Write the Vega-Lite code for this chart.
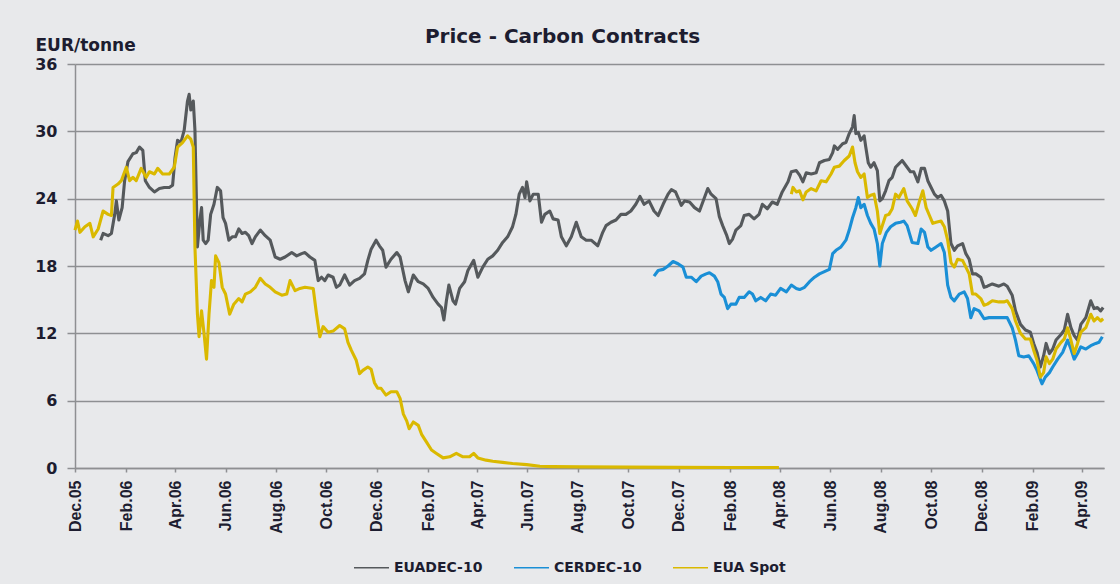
{
"$schema": "https://vega.github.io/schema/vega-lite/v6.json",
"width": 1029, "height": 404,
"autosize": {"type": "none"},
"padding": {"left": 75, "top": 64, "right": 16, "bottom": 116},
"background": "#e8e9eb",
"title": {"text": "Price - Carbon Contracts", "anchor": "middle", "frame": "group", "dx": -27, "dy": 27, "offset": 16, "font": "DejaVu Sans", "fontSize": 20, "fontWeight": "bold", "color": "#1d1d30"},
"data": {"values": [
{"d":"2006-01-01","s":"EUADEC-10","g":"a","p":20.3},
{"d":"2006-01-04","s":"EUADEC-10","g":"a","p":20.9},
{"d":"2006-01-10","s":"EUADEC-10","g":"a","p":20.7},
{"d":"2006-01-14","s":"EUADEC-10","g":"a","p":20.9},
{"d":"2006-01-18","s":"EUADEC-10","g":"a","p":22.6},
{"d":"2006-01-20","s":"EUADEC-10","g":"a","p":23.8},
{"d":"2006-01-23","s":"EUADEC-10","g":"a","p":22.1},
{"d":"2006-01-27","s":"EUADEC-10","g":"a","p":23.2},
{"d":"2006-01-30","s":"EUADEC-10","g":"a","p":25.6},
{"d":"2006-02-03","s":"EUADEC-10","g":"a","p":27.3},
{"d":"2006-02-09","s":"EUADEC-10","g":"a","p":28.0},
{"d":"2006-02-13","s":"EUADEC-10","g":"a","p":28.1},
{"d":"2006-02-17","s":"EUADEC-10","g":"a","p":28.6},
{"d":"2006-02-21","s":"EUADEC-10","g":"a","p":28.3},
{"d":"2006-02-24","s":"EUADEC-10","g":"a","p":25.6},
{"d":"2006-03-01","s":"EUADEC-10","g":"a","p":25.0},
{"d":"2006-03-07","s":"EUADEC-10","g":"a","p":24.6},
{"d":"2006-03-13","s":"EUADEC-10","g":"a","p":24.9},
{"d":"2006-03-19","s":"EUADEC-10","g":"a","p":25.0},
{"d":"2006-03-25","s":"EUADEC-10","g":"a","p":25.0},
{"d":"2006-03-29","s":"EUADEC-10","g":"a","p":25.2},
{"d":"2006-04-01","s":"EUADEC-10","g":"a","p":27.7},
{"d":"2006-04-04","s":"EUADEC-10","g":"a","p":29.2},
{"d":"2006-04-08","s":"EUADEC-10","g":"a","p":29.0},
{"d":"2006-04-12","s":"EUADEC-10","g":"a","p":30.1},
{"d":"2006-04-16","s":"EUADEC-10","g":"a","p":32.7},
{"d":"2006-04-18","s":"EUADEC-10","g":"a","p":33.3},
{"d":"2006-04-20","s":"EUADEC-10","g":"a","p":31.9},
{"d":"2006-04-23","s":"EUADEC-10","g":"a","p":32.7},
{"d":"2006-04-25","s":"EUADEC-10","g":"a","p":30.1},
{"d":"2006-04-28","s":"EUADEC-10","g":"a","p":19.7},
{"d":"2006-05-01","s":"EUADEC-10","g":"a","p":22.1},
{"d":"2006-05-03","s":"EUADEC-10","g":"a","p":23.2},
{"d":"2006-05-05","s":"EUADEC-10","g":"a","p":20.3},
{"d":"2006-05-08","s":"EUADEC-10","g":"a","p":20.0},
{"d":"2006-05-11","s":"EUADEC-10","g":"a","p":20.3},
{"d":"2006-05-14","s":"EUADEC-10","g":"a","p":22.6},
{"d":"2006-05-18","s":"EUADEC-10","g":"a","p":23.5},
{"d":"2006-05-22","s":"EUADEC-10","g":"a","p":25.0},
{"d":"2006-05-26","s":"EUADEC-10","g":"a","p":24.7},
{"d":"2006-05-29","s":"EUADEC-10","g":"a","p":22.3},
{"d":"2006-06-01","s":"EUADEC-10","g":"a","p":21.8},
{"d":"2006-06-05","s":"EUADEC-10","g":"a","p":20.3},
{"d":"2006-06-09","s":"EUADEC-10","g":"a","p":20.6},
{"d":"2006-06-13","s":"EUADEC-10","g":"a","p":20.6},
{"d":"2006-06-17","s":"EUADEC-10","g":"a","p":21.3},
{"d":"2006-06-21","s":"EUADEC-10","g":"a","p":20.9},
{"d":"2006-06-25","s":"EUADEC-10","g":"a","p":21.0},
{"d":"2006-06-29","s":"EUADEC-10","g":"a","p":20.7},
{"d":"2006-07-03","s":"EUADEC-10","g":"a","p":20.0},
{"d":"2006-07-07","s":"EUADEC-10","g":"a","p":20.6},
{"d":"2006-07-13","s":"EUADEC-10","g":"a","p":21.2},
{"d":"2006-07-19","s":"EUADEC-10","g":"a","p":20.7},
{"d":"2006-07-25","s":"EUADEC-10","g":"a","p":20.3},
{"d":"2006-07-31","s":"EUADEC-10","g":"a","p":18.8},
{"d":"2006-08-06","s":"EUADEC-10","g":"a","p":18.6},
{"d":"2006-08-12","s":"EUADEC-10","g":"a","p":18.8},
{"d":"2006-08-20","s":"EUADEC-10","g":"a","p":19.2},
{"d":"2006-08-26","s":"EUADEC-10","g":"a","p":18.9},
{"d":"2006-09-01","s":"EUADEC-10","g":"a","p":19.1},
{"d":"2006-09-05","s":"EUADEC-10","g":"a","p":19.2},
{"d":"2006-09-11","s":"EUADEC-10","g":"a","p":18.8},
{"d":"2006-09-17","s":"EUADEC-10","g":"a","p":18.5},
{"d":"2006-09-21","s":"EUADEC-10","g":"a","p":16.7},
{"d":"2006-09-25","s":"EUADEC-10","g":"a","p":17.0},
{"d":"2006-09-29","s":"EUADEC-10","g":"a","p":16.7},
{"d":"2006-10-03","s":"EUADEC-10","g":"a","p":17.2},
{"d":"2006-10-09","s":"EUADEC-10","g":"a","p":17.0},
{"d":"2006-10-13","s":"EUADEC-10","g":"a","p":16.1},
{"d":"2006-10-17","s":"EUADEC-10","g":"a","p":16.3},
{"d":"2006-10-23","s":"EUADEC-10","g":"a","p":17.2},
{"d":"2006-10-29","s":"EUADEC-10","g":"a","p":16.3},
{"d":"2006-11-04","s":"EUADEC-10","g":"a","p":16.7},
{"d":"2006-11-10","s":"EUADEC-10","g":"a","p":16.9},
{"d":"2006-11-16","s":"EUADEC-10","g":"a","p":17.3},
{"d":"2006-11-20","s":"EUADEC-10","g":"a","p":18.5},
{"d":"2006-11-24","s":"EUADEC-10","g":"a","p":19.5},
{"d":"2006-11-30","s":"EUADEC-10","g":"a","p":20.3},
{"d":"2006-12-04","s":"EUADEC-10","g":"a","p":19.8},
{"d":"2006-12-08","s":"EUADEC-10","g":"a","p":19.4},
{"d":"2006-12-12","s":"EUADEC-10","g":"a","p":17.9},
{"d":"2006-12-18","s":"EUADEC-10","g":"a","p":18.6},
{"d":"2006-12-25","s":"EUADEC-10","g":"a","p":19.2},
{"d":"2006-12-29","s":"EUADEC-10","g":"a","p":18.8},
{"d":"2007-01-04","s":"EUADEC-10","g":"a","p":16.7},
{"d":"2007-01-08","s":"EUADEC-10","g":"a","p":15.7},
{"d":"2007-01-14","s":"EUADEC-10","g":"a","p":17.2},
{"d":"2007-01-20","s":"EUADEC-10","g":"a","p":16.6},
{"d":"2007-01-26","s":"EUADEC-10","g":"a","p":16.4},
{"d":"2007-02-01","s":"EUADEC-10","g":"a","p":16.0},
{"d":"2007-02-07","s":"EUADEC-10","g":"a","p":15.2},
{"d":"2007-02-13","s":"EUADEC-10","g":"a","p":14.6},
{"d":"2007-02-17","s":"EUADEC-10","g":"a","p":14.3},
{"d":"2007-02-20","s":"EUADEC-10","g":"a","p":13.2},
{"d":"2007-02-23","s":"EUADEC-10","g":"a","p":14.9},
{"d":"2007-02-26","s":"EUADEC-10","g":"a","p":16.3},
{"d":"2007-03-03","s":"EUADEC-10","g":"a","p":14.9},
{"d":"2007-03-06","s":"EUADEC-10","g":"a","p":14.6},
{"d":"2007-03-11","s":"EUADEC-10","g":"a","p":16.0},
{"d":"2007-03-17","s":"EUADEC-10","g":"a","p":16.6},
{"d":"2007-03-21","s":"EUADEC-10","g":"a","p":17.6},
{"d":"2007-03-28","s":"EUADEC-10","g":"a","p":18.5},
{"d":"2007-04-02","s":"EUADEC-10","g":"a","p":17.0},
{"d":"2007-04-08","s":"EUADEC-10","g":"a","p":17.9},
{"d":"2007-04-14","s":"EUADEC-10","g":"a","p":18.6},
{"d":"2007-04-20","s":"EUADEC-10","g":"a","p":18.9},
{"d":"2007-04-26","s":"EUADEC-10","g":"a","p":19.4},
{"d":"2007-05-02","s":"EUADEC-10","g":"a","p":20.1},
{"d":"2007-05-08","s":"EUADEC-10","g":"a","p":20.6},
{"d":"2007-05-14","s":"EUADEC-10","g":"a","p":21.5},
{"d":"2007-05-18","s":"EUADEC-10","g":"a","p":22.6},
{"d":"2007-05-22","s":"EUADEC-10","g":"a","p":24.4},
{"d":"2007-05-26","s":"EUADEC-10","g":"a","p":25.0},
{"d":"2007-05-29","s":"EUADEC-10","g":"a","p":24.1},
{"d":"2007-05-31","s":"EUADEC-10","g":"a","p":25.5},
{"d":"2007-06-04","s":"EUADEC-10","g":"a","p":23.8},
{"d":"2007-06-08","s":"EUADEC-10","g":"a","p":24.4},
{"d":"2007-06-14","s":"EUADEC-10","g":"a","p":24.4},
{"d":"2007-06-18","s":"EUADEC-10","g":"a","p":21.9},
{"d":"2007-06-22","s":"EUADEC-10","g":"a","p":22.6},
{"d":"2007-06-28","s":"EUADEC-10","g":"a","p":22.9},
{"d":"2007-07-02","s":"EUADEC-10","g":"a","p":22.2},
{"d":"2007-07-08","s":"EUADEC-10","g":"a","p":22.1},
{"d":"2007-07-12","s":"EUADEC-10","g":"a","p":20.6},
{"d":"2007-07-18","s":"EUADEC-10","g":"a","p":19.8},
{"d":"2007-07-24","s":"EUADEC-10","g":"a","p":20.6},
{"d":"2007-07-30","s":"EUADEC-10","g":"a","p":21.9},
{"d":"2007-08-05","s":"EUADEC-10","g":"a","p":20.6},
{"d":"2007-08-11","s":"EUADEC-10","g":"a","p":20.3},
{"d":"2007-08-17","s":"EUADEC-10","g":"a","p":20.3},
{"d":"2007-08-25","s":"EUADEC-10","g":"a","p":19.8},
{"d":"2007-08-31","s":"EUADEC-10","g":"a","p":21.0},
{"d":"2007-09-04","s":"EUADEC-10","g":"a","p":21.6},
{"d":"2007-09-10","s":"EUADEC-10","g":"a","p":21.9},
{"d":"2007-09-16","s":"EUADEC-10","g":"a","p":22.1},
{"d":"2007-09-22","s":"EUADEC-10","g":"a","p":22.6},
{"d":"2007-09-28","s":"EUADEC-10","g":"a","p":22.6},
{"d":"2007-10-04","s":"EUADEC-10","g":"a","p":22.9},
{"d":"2007-10-10","s":"EUADEC-10","g":"a","p":23.5},
{"d":"2007-10-15","s":"EUADEC-10","g":"a","p":24.2},
{"d":"2007-10-20","s":"EUADEC-10","g":"a","p":23.5},
{"d":"2007-10-26","s":"EUADEC-10","g":"a","p":23.8},
{"d":"2007-11-01","s":"EUADEC-10","g":"a","p":22.9},
{"d":"2007-11-06","s":"EUADEC-10","g":"a","p":22.5},
{"d":"2007-11-12","s":"EUADEC-10","g":"a","p":23.5},
{"d":"2007-11-18","s":"EUADEC-10","g":"a","p":24.4},
{"d":"2007-11-22","s":"EUADEC-10","g":"a","p":24.8},
{"d":"2007-11-27","s":"EUADEC-10","g":"a","p":24.6},
{"d":"2007-11-30","s":"EUADEC-10","g":"a","p":24.1},
{"d":"2007-12-04","s":"EUADEC-10","g":"a","p":23.4},
{"d":"2007-12-08","s":"EUADEC-10","g":"a","p":23.8},
{"d":"2007-12-14","s":"EUADEC-10","g":"a","p":23.7},
{"d":"2007-12-20","s":"EUADEC-10","g":"a","p":23.2},
{"d":"2007-12-26","s":"EUADEC-10","g":"a","p":22.9},
{"d":"2008-01-01","s":"EUADEC-10","g":"a","p":24.1},
{"d":"2008-01-05","s":"EUADEC-10","g":"a","p":24.9},
{"d":"2008-01-09","s":"EUADEC-10","g":"a","p":24.4},
{"d":"2008-01-15","s":"EUADEC-10","g":"a","p":24.0},
{"d":"2008-01-19","s":"EUADEC-10","g":"a","p":22.4},
{"d":"2008-01-23","s":"EUADEC-10","g":"a","p":21.6},
{"d":"2008-01-28","s":"EUADEC-10","g":"a","p":20.7},
{"d":"2008-01-31","s":"EUADEC-10","g":"a","p":20.0},
{"d":"2008-02-04","s":"EUADEC-10","g":"a","p":20.4},
{"d":"2008-02-08","s":"EUADEC-10","g":"a","p":21.2},
{"d":"2008-02-14","s":"EUADEC-10","g":"a","p":21.6},
{"d":"2008-02-18","s":"EUADEC-10","g":"a","p":22.5},
{"d":"2008-02-24","s":"EUADEC-10","g":"a","p":22.6},
{"d":"2008-03-01","s":"EUADEC-10","g":"a","p":22.2},
{"d":"2008-03-07","s":"EUADEC-10","g":"a","p":22.6},
{"d":"2008-03-11","s":"EUADEC-10","g":"a","p":23.5},
{"d":"2008-03-17","s":"EUADEC-10","g":"a","p":23.1},
{"d":"2008-03-23","s":"EUADEC-10","g":"a","p":23.7},
{"d":"2008-03-29","s":"EUADEC-10","g":"a","p":23.5},
{"d":"2008-04-04","s":"EUADEC-10","g":"a","p":24.6},
{"d":"2008-04-11","s":"EUADEC-10","g":"a","p":25.5},
{"d":"2008-04-15","s":"EUADEC-10","g":"a","p":26.4},
{"d":"2008-04-21","s":"EUADEC-10","g":"a","p":26.5},
{"d":"2008-04-25","s":"EUADEC-10","g":"a","p":26.1},
{"d":"2008-04-29","s":"EUADEC-10","g":"a","p":25.5},
{"d":"2008-05-03","s":"EUADEC-10","g":"a","p":26.3},
{"d":"2008-05-09","s":"EUADEC-10","g":"a","p":26.2},
{"d":"2008-05-15","s":"EUADEC-10","g":"a","p":26.3},
{"d":"2008-05-19","s":"EUADEC-10","g":"a","p":27.2},
{"d":"2008-05-25","s":"EUADEC-10","g":"a","p":27.4},
{"d":"2008-05-31","s":"EUADEC-10","g":"a","p":27.5},
{"d":"2008-06-04","s":"EUADEC-10","g":"a","p":28.1},
{"d":"2008-06-06","s":"EUADEC-10","g":"a","p":28.7},
{"d":"2008-06-10","s":"EUADEC-10","g":"a","p":28.4},
{"d":"2008-06-16","s":"EUADEC-10","g":"a","p":28.9},
{"d":"2008-06-20","s":"EUADEC-10","g":"a","p":29.0},
{"d":"2008-06-24","s":"EUADEC-10","g":"a","p":29.8},
{"d":"2008-06-28","s":"EUADEC-10","g":"a","p":30.4},
{"d":"2008-06-30","s":"EUADEC-10","g":"a","p":31.4},
{"d":"2008-07-02","s":"EUADEC-10","g":"a","p":29.8},
{"d":"2008-07-05","s":"EUADEC-10","g":"a","p":29.9},
{"d":"2008-07-08","s":"EUADEC-10","g":"a","p":29.2},
{"d":"2008-07-12","s":"EUADEC-10","g":"a","p":29.6},
{"d":"2008-07-14","s":"EUADEC-10","g":"a","p":28.6},
{"d":"2008-07-17","s":"EUADEC-10","g":"a","p":27.2},
{"d":"2008-07-20","s":"EUADEC-10","g":"a","p":26.8},
{"d":"2008-07-24","s":"EUADEC-10","g":"a","p":27.2},
{"d":"2008-07-28","s":"EUADEC-10","g":"a","p":26.5},
{"d":"2008-07-31","s":"EUADEC-10","g":"a","p":23.8},
{"d":"2008-08-03","s":"EUADEC-10","g":"a","p":24.0},
{"d":"2008-08-07","s":"EUADEC-10","g":"a","p":24.7},
{"d":"2008-08-11","s":"EUADEC-10","g":"a","p":25.6},
{"d":"2008-08-15","s":"EUADEC-10","g":"a","p":25.9},
{"d":"2008-08-19","s":"EUADEC-10","g":"a","p":26.8},
{"d":"2008-08-23","s":"EUADEC-10","g":"a","p":27.1},
{"d":"2008-08-27","s":"EUADEC-10","g":"a","p":27.4},
{"d":"2008-09-02","s":"EUADEC-10","g":"a","p":26.8},
{"d":"2008-09-06","s":"EUADEC-10","g":"a","p":26.4},
{"d":"2008-09-10","s":"EUADEC-10","g":"a","p":26.4},
{"d":"2008-09-15","s":"EUADEC-10","g":"a","p":25.5},
{"d":"2008-09-19","s":"EUADEC-10","g":"a","p":26.7},
{"d":"2008-09-23","s":"EUADEC-10","g":"a","p":26.7},
{"d":"2008-09-27","s":"EUADEC-10","g":"a","p":25.6},
{"d":"2008-10-01","s":"EUADEC-10","g":"a","p":25.0},
{"d":"2008-10-05","s":"EUADEC-10","g":"a","p":24.4},
{"d":"2008-10-09","s":"EUADEC-10","g":"a","p":24.1},
{"d":"2008-10-13","s":"EUADEC-10","g":"a","p":24.3},
{"d":"2008-10-17","s":"EUADEC-10","g":"a","p":23.8},
{"d":"2008-10-21","s":"EUADEC-10","g":"a","p":22.9},
{"d":"2008-10-25","s":"EUADEC-10","g":"a","p":20.0},
{"d":"2008-10-29","s":"EUADEC-10","g":"a","p":19.4},
{"d":"2008-11-02","s":"EUADEC-10","g":"a","p":19.8},
{"d":"2008-11-08","s":"EUADEC-10","g":"a","p":20.0},
{"d":"2008-11-12","s":"EUADEC-10","g":"a","p":19.1},
{"d":"2008-11-16","s":"EUADEC-10","g":"a","p":18.6},
{"d":"2008-11-20","s":"EUADEC-10","g":"a","p":17.3},
{"d":"2008-11-24","s":"EUADEC-10","g":"a","p":17.3},
{"d":"2008-11-30","s":"EUADEC-10","g":"a","p":17.0},
{"d":"2008-12-04","s":"EUADEC-10","g":"a","p":16.1},
{"d":"2008-12-08","s":"EUADEC-10","g":"a","p":16.2},
{"d":"2008-12-14","s":"EUADEC-10","g":"a","p":16.4},
{"d":"2008-12-22","s":"EUADEC-10","g":"a","p":16.2},
{"d":"2008-12-28","s":"EUADEC-10","g":"a","p":16.4},
{"d":"2009-01-01","s":"EUADEC-10","g":"a","p":16.2},
{"d":"2009-01-07","s":"EUADEC-10","g":"a","p":15.4},
{"d":"2009-01-11","s":"EUADEC-10","g":"a","p":14.0},
{"d":"2009-01-17","s":"EUADEC-10","g":"a","p":12.8},
{"d":"2009-01-23","s":"EUADEC-10","g":"a","p":12.3},
{"d":"2009-01-29","s":"EUADEC-10","g":"a","p":12.1},
{"d":"2009-02-02","s":"EUADEC-10","g":"a","p":11.1},
{"d":"2009-02-06","s":"EUADEC-10","g":"a","p":10.3},
{"d":"2009-02-10","s":"EUADEC-10","g":"a","p":9.0},
{"d":"2009-02-14","s":"EUADEC-10","g":"a","p":10.0},
{"d":"2009-02-17","s":"EUADEC-10","g":"a","p":11.1},
{"d":"2009-02-21","s":"EUADEC-10","g":"a","p":10.2},
{"d":"2009-02-25","s":"EUADEC-10","g":"a","p":10.6},
{"d":"2009-03-01","s":"EUADEC-10","g":"a","p":11.4},
{"d":"2009-03-07","s":"EUADEC-10","g":"a","p":11.9},
{"d":"2009-03-11","s":"EUADEC-10","g":"a","p":12.3},
{"d":"2009-03-15","s":"EUADEC-10","g":"a","p":13.7},
{"d":"2009-03-19","s":"EUADEC-10","g":"a","p":12.5},
{"d":"2009-03-23","s":"EUADEC-10","g":"a","p":11.8},
{"d":"2009-03-27","s":"EUADEC-10","g":"a","p":11.4},
{"d":"2009-03-31","s":"EUADEC-10","g":"a","p":12.8},
{"d":"2009-04-06","s":"EUADEC-10","g":"a","p":13.4},
{"d":"2009-04-12","s":"EUADEC-10","g":"a","p":14.9},
{"d":"2009-04-16","s":"EUADEC-10","g":"a","p":14.2},
{"d":"2009-04-20","s":"EUADEC-10","g":"a","p":14.3},
{"d":"2009-04-24","s":"EUADEC-10","g":"a","p":14.0},
{"d":"2009-04-27","s":"EUADEC-10","g":"a","p":14.3},
{"d":"2007-11-01","s":"CERDEC-10","g":"b","p":17.1},
{"d":"2007-11-06","s":"CERDEC-10","g":"b","p":17.6},
{"d":"2007-11-12","s":"CERDEC-10","g":"b","p":17.7},
{"d":"2007-11-18","s":"CERDEC-10","g":"b","p":18.0},
{"d":"2007-11-24","s":"CERDEC-10","g":"b","p":18.4},
{"d":"2007-11-30","s":"CERDEC-10","g":"b","p":18.2},
{"d":"2007-12-06","s":"CERDEC-10","g":"b","p":17.9},
{"d":"2007-12-10","s":"CERDEC-10","g":"b","p":17.0},
{"d":"2007-12-16","s":"CERDEC-10","g":"b","p":17.0},
{"d":"2007-12-22","s":"CERDEC-10","g":"b","p":16.6},
{"d":"2007-12-28","s":"CERDEC-10","g":"b","p":17.1},
{"d":"2008-01-03","s":"CERDEC-10","g":"b","p":17.3},
{"d":"2008-01-07","s":"CERDEC-10","g":"b","p":17.4},
{"d":"2008-01-13","s":"CERDEC-10","g":"b","p":17.1},
{"d":"2008-01-17","s":"CERDEC-10","g":"b","p":16.6},
{"d":"2008-01-21","s":"CERDEC-10","g":"b","p":15.5},
{"d":"2008-01-25","s":"CERDEC-10","g":"b","p":15.2},
{"d":"2008-01-29","s":"CERDEC-10","g":"b","p":14.2},
{"d":"2008-02-02","s":"CERDEC-10","g":"b","p":14.6},
{"d":"2008-02-08","s":"CERDEC-10","g":"b","p":14.6},
{"d":"2008-02-12","s":"CERDEC-10","g":"b","p":15.2},
{"d":"2008-02-18","s":"CERDEC-10","g":"b","p":15.2},
{"d":"2008-02-24","s":"CERDEC-10","g":"b","p":15.7},
{"d":"2008-02-28","s":"CERDEC-10","g":"b","p":15.5},
{"d":"2008-03-03","s":"CERDEC-10","g":"b","p":14.9},
{"d":"2008-03-09","s":"CERDEC-10","g":"b","p":15.2},
{"d":"2008-03-15","s":"CERDEC-10","g":"b","p":14.9},
{"d":"2008-03-21","s":"CERDEC-10","g":"b","p":15.5},
{"d":"2008-03-27","s":"CERDEC-10","g":"b","p":15.4},
{"d":"2008-04-02","s":"CERDEC-10","g":"b","p":16.0},
{"d":"2008-04-09","s":"CERDEC-10","g":"b","p":15.7},
{"d":"2008-04-15","s":"CERDEC-10","g":"b","p":16.3},
{"d":"2008-04-21","s":"CERDEC-10","g":"b","p":16.0},
{"d":"2008-04-25","s":"CERDEC-10","g":"b","p":15.9},
{"d":"2008-05-01","s":"CERDEC-10","g":"b","p":16.1},
{"d":"2008-05-07","s":"CERDEC-10","g":"b","p":16.6},
{"d":"2008-05-13","s":"CERDEC-10","g":"b","p":17.0},
{"d":"2008-05-19","s":"CERDEC-10","g":"b","p":17.3},
{"d":"2008-05-25","s":"CERDEC-10","g":"b","p":17.5},
{"d":"2008-05-31","s":"CERDEC-10","g":"b","p":17.7},
{"d":"2008-06-04","s":"CERDEC-10","g":"b","p":19.1},
{"d":"2008-06-08","s":"CERDEC-10","g":"b","p":19.4},
{"d":"2008-06-14","s":"CERDEC-10","g":"b","p":19.7},
{"d":"2008-06-20","s":"CERDEC-10","g":"b","p":20.3},
{"d":"2008-06-24","s":"CERDEC-10","g":"b","p":21.2},
{"d":"2008-06-28","s":"CERDEC-10","g":"b","p":22.3},
{"d":"2008-07-02","s":"CERDEC-10","g":"b","p":23.2},
{"d":"2008-07-05","s":"CERDEC-10","g":"b","p":24.1},
{"d":"2008-07-08","s":"CERDEC-10","g":"b","p":23.2},
{"d":"2008-07-12","s":"CERDEC-10","g":"b","p":23.5},
{"d":"2008-07-16","s":"CERDEC-10","g":"b","p":22.5},
{"d":"2008-07-20","s":"CERDEC-10","g":"b","p":21.8},
{"d":"2008-07-24","s":"CERDEC-10","g":"b","p":21.3},
{"d":"2008-07-28","s":"CERDEC-10","g":"b","p":20.0},
{"d":"2008-07-31","s":"CERDEC-10","g":"b","p":18.0},
{"d":"2008-08-03","s":"CERDEC-10","g":"b","p":20.0},
{"d":"2008-08-08","s":"CERDEC-10","g":"b","p":21.0},
{"d":"2008-08-13","s":"CERDEC-10","g":"b","p":21.5},
{"d":"2008-08-19","s":"CERDEC-10","g":"b","p":21.8},
{"d":"2008-08-25","s":"CERDEC-10","g":"b","p":21.9},
{"d":"2008-08-29","s":"CERDEC-10","g":"b","p":22.0},
{"d":"2008-09-02","s":"CERDEC-10","g":"b","p":21.6},
{"d":"2008-09-08","s":"CERDEC-10","g":"b","p":20.1},
{"d":"2008-09-15","s":"CERDEC-10","g":"b","p":20.0},
{"d":"2008-09-19","s":"CERDEC-10","g":"b","p":21.3},
{"d":"2008-09-23","s":"CERDEC-10","g":"b","p":21.0},
{"d":"2008-09-27","s":"CERDEC-10","g":"b","p":19.7},
{"d":"2008-10-01","s":"CERDEC-10","g":"b","p":19.4},
{"d":"2008-10-07","s":"CERDEC-10","g":"b","p":19.7},
{"d":"2008-10-13","s":"CERDEC-10","g":"b","p":20.0},
{"d":"2008-10-17","s":"CERDEC-10","g":"b","p":19.2},
{"d":"2008-10-21","s":"CERDEC-10","g":"b","p":16.3},
{"d":"2008-10-25","s":"CERDEC-10","g":"b","p":15.2},
{"d":"2008-10-29","s":"CERDEC-10","g":"b","p":14.9},
{"d":"2008-11-04","s":"CERDEC-10","g":"b","p":15.5},
{"d":"2008-11-10","s":"CERDEC-10","g":"b","p":15.7},
{"d":"2008-11-14","s":"CERDEC-10","g":"b","p":15.1},
{"d":"2008-11-18","s":"CERDEC-10","g":"b","p":13.4},
{"d":"2008-11-22","s":"CERDEC-10","g":"b","p":14.2},
{"d":"2008-11-28","s":"CERDEC-10","g":"b","p":14.0},
{"d":"2008-12-04","s":"CERDEC-10","g":"b","p":13.3},
{"d":"2008-12-10","s":"CERDEC-10","g":"b","p":13.4},
{"d":"2008-12-18","s":"CERDEC-10","g":"b","p":13.4},
{"d":"2008-12-26","s":"CERDEC-10","g":"b","p":13.4},
{"d":"2009-01-01","s":"CERDEC-10","g":"b","p":13.4},
{"d":"2009-01-07","s":"CERDEC-10","g":"b","p":12.5},
{"d":"2009-01-11","s":"CERDEC-10","g":"b","p":11.4},
{"d":"2009-01-15","s":"CERDEC-10","g":"b","p":10.0},
{"d":"2009-01-21","s":"CERDEC-10","g":"b","p":9.9},
{"d":"2009-01-27","s":"CERDEC-10","g":"b","p":10.0},
{"d":"2009-02-02","s":"CERDEC-10","g":"b","p":9.3},
{"d":"2009-02-06","s":"CERDEC-10","g":"b","p":8.7},
{"d":"2009-02-12","s":"CERDEC-10","g":"b","p":7.5},
{"d":"2009-02-16","s":"CERDEC-10","g":"b","p":8.1},
{"d":"2009-02-21","s":"CERDEC-10","g":"b","p":8.5},
{"d":"2009-02-25","s":"CERDEC-10","g":"b","p":9.0},
{"d":"2009-03-03","s":"CERDEC-10","g":"b","p":9.7},
{"d":"2009-03-09","s":"CERDEC-10","g":"b","p":10.3},
{"d":"2009-03-15","s":"CERDEC-10","g":"b","p":11.4},
{"d":"2009-03-19","s":"CERDEC-10","g":"b","p":10.6},
{"d":"2009-03-23","s":"CERDEC-10","g":"b","p":9.7},
{"d":"2009-03-27","s":"CERDEC-10","g":"b","p":10.2},
{"d":"2009-03-31","s":"CERDEC-10","g":"b","p":10.8},
{"d":"2009-04-06","s":"CERDEC-10","g":"b","p":10.6},
{"d":"2009-04-12","s":"CERDEC-10","g":"b","p":10.9},
{"d":"2009-04-18","s":"CERDEC-10","g":"b","p":11.1},
{"d":"2009-04-22","s":"CERDEC-10","g":"b","p":11.2},
{"d":"2009-04-26","s":"CERDEC-10","g":"b","p":11.7},
{"d":"2005-12-01","s":"EUA Spot","g":"c1","p":21.2},
{"d":"2005-12-04","s":"EUA Spot","g":"c1","p":22.0},
{"d":"2005-12-07","s":"EUA Spot","g":"c1","p":21.0},
{"d":"2005-12-13","s":"EUA Spot","g":"c1","p":21.5},
{"d":"2005-12-19","s":"EUA Spot","g":"c1","p":21.8},
{"d":"2005-12-23","s":"EUA Spot","g":"c1","p":20.6},
{"d":"2005-12-29","s":"EUA Spot","g":"c1","p":21.3},
{"d":"2006-01-04","s":"EUA Spot","g":"c1","p":22.9},
{"d":"2006-01-10","s":"EUA Spot","g":"c1","p":22.6},
{"d":"2006-01-14","s":"EUA Spot","g":"c1","p":22.5},
{"d":"2006-01-16","s":"EUA Spot","g":"c1","p":25.0},
{"d":"2006-01-22","s":"EUA Spot","g":"c1","p":25.3},
{"d":"2006-01-26","s":"EUA Spot","g":"c1","p":25.6},
{"d":"2006-02-01","s":"EUA Spot","g":"c1","p":26.8},
{"d":"2006-02-05","s":"EUA Spot","g":"c1","p":25.6},
{"d":"2006-02-09","s":"EUA Spot","g":"c1","p":25.9},
{"d":"2006-02-13","s":"EUA Spot","g":"c1","p":25.6},
{"d":"2006-02-19","s":"EUA Spot","g":"c1","p":26.7},
{"d":"2006-02-25","s":"EUA Spot","g":"c1","p":25.9},
{"d":"2006-03-01","s":"EUA Spot","g":"c1","p":26.4},
{"d":"2006-03-07","s":"EUA Spot","g":"c1","p":26.2},
{"d":"2006-03-11","s":"EUA Spot","g":"c1","p":26.7},
{"d":"2006-03-17","s":"EUA Spot","g":"c1","p":26.2},
{"d":"2006-03-25","s":"EUA Spot","g":"c1","p":26.2},
{"d":"2006-03-31","s":"EUA Spot","g":"c1","p":26.8},
{"d":"2006-04-04","s":"EUA Spot","g":"c1","p":28.6},
{"d":"2006-04-10","s":"EUA Spot","g":"c1","p":29.0},
{"d":"2006-04-16","s":"EUA Spot","g":"c1","p":29.6},
{"d":"2006-04-20","s":"EUA Spot","g":"c1","p":29.3},
{"d":"2006-04-23","s":"EUA Spot","g":"c1","p":28.6},
{"d":"2006-04-25","s":"EUA Spot","g":"c1","p":19.7},
{"d":"2006-04-28","s":"EUA Spot","g":"c1","p":13.7},
{"d":"2006-04-30","s":"EUA Spot","g":"c1","p":11.7},
{"d":"2006-05-03","s":"EUA Spot","g":"c1","p":14.0},
{"d":"2006-05-06","s":"EUA Spot","g":"c1","p":12.0},
{"d":"2006-05-09","s":"EUA Spot","g":"c1","p":9.7},
{"d":"2006-05-12","s":"EUA Spot","g":"c1","p":13.7},
{"d":"2006-05-15","s":"EUA Spot","g":"c1","p":16.7},
{"d":"2006-05-18","s":"EUA Spot","g":"c1","p":16.1},
{"d":"2006-05-20","s":"EUA Spot","g":"c1","p":18.9},
{"d":"2006-05-24","s":"EUA Spot","g":"c1","p":18.3},
{"d":"2006-05-28","s":"EUA Spot","g":"c1","p":16.1},
{"d":"2006-06-01","s":"EUA Spot","g":"c1","p":15.5},
{"d":"2006-06-06","s":"EUA Spot","g":"c1","p":13.7},
{"d":"2006-06-11","s":"EUA Spot","g":"c1","p":14.6},
{"d":"2006-06-17","s":"EUA Spot","g":"c1","p":15.1},
{"d":"2006-06-21","s":"EUA Spot","g":"c1","p":14.8},
{"d":"2006-06-25","s":"EUA Spot","g":"c1","p":15.5},
{"d":"2006-07-01","s":"EUA Spot","g":"c1","p":15.7},
{"d":"2006-07-07","s":"EUA Spot","g":"c1","p":16.1},
{"d":"2006-07-13","s":"EUA Spot","g":"c1","p":16.9},
{"d":"2006-07-19","s":"EUA Spot","g":"c1","p":16.4},
{"d":"2006-07-25","s":"EUA Spot","g":"c1","p":16.1},
{"d":"2006-07-31","s":"EUA Spot","g":"c1","p":15.7},
{"d":"2006-08-08","s":"EUA Spot","g":"c1","p":15.4},
{"d":"2006-08-14","s":"EUA Spot","g":"c1","p":15.5},
{"d":"2006-08-18","s":"EUA Spot","g":"c1","p":16.7},
{"d":"2006-08-24","s":"EUA Spot","g":"c1","p":15.8},
{"d":"2006-08-30","s":"EUA Spot","g":"c1","p":16.0},
{"d":"2006-09-05","s":"EUA Spot","g":"c1","p":16.1},
{"d":"2006-09-15","s":"EUA Spot","g":"c1","p":16.0},
{"d":"2006-09-19","s":"EUA Spot","g":"c1","p":13.7},
{"d":"2006-09-23","s":"EUA Spot","g":"c1","p":11.7},
{"d":"2006-09-27","s":"EUA Spot","g":"c1","p":12.6},
{"d":"2006-10-03","s":"EUA Spot","g":"c1","p":12.1},
{"d":"2006-10-09","s":"EUA Spot","g":"c1","p":12.2},
{"d":"2006-10-17","s":"EUA Spot","g":"c1","p":12.7},
{"d":"2006-10-23","s":"EUA Spot","g":"c1","p":12.4},
{"d":"2006-10-27","s":"EUA Spot","g":"c1","p":11.2},
{"d":"2006-10-31","s":"EUA Spot","g":"c1","p":10.5},
{"d":"2006-11-06","s":"EUA Spot","g":"c1","p":9.6},
{"d":"2006-11-10","s":"EUA Spot","g":"c1","p":8.4},
{"d":"2006-11-14","s":"EUA Spot","g":"c1","p":8.7},
{"d":"2006-11-20","s":"EUA Spot","g":"c1","p":9.0},
{"d":"2006-11-24","s":"EUA Spot","g":"c1","p":8.8},
{"d":"2006-11-28","s":"EUA Spot","g":"c1","p":7.6},
{"d":"2006-12-02","s":"EUA Spot","g":"c1","p":7.1},
{"d":"2006-12-06","s":"EUA Spot","g":"c1","p":7.1},
{"d":"2006-12-12","s":"EUA Spot","g":"c1","p":6.5},
{"d":"2006-12-18","s":"EUA Spot","g":"c1","p":6.8},
{"d":"2006-12-25","s":"EUA Spot","g":"c1","p":6.8},
{"d":"2006-12-29","s":"EUA Spot","g":"c1","p":6.2},
{"d":"2007-01-02","s":"EUA Spot","g":"c1","p":4.8},
{"d":"2007-01-06","s":"EUA Spot","g":"c1","p":4.2},
{"d":"2007-01-09","s":"EUA Spot","g":"c1","p":3.5},
{"d":"2007-01-14","s":"EUA Spot","g":"c1","p":4.1},
{"d":"2007-01-20","s":"EUA Spot","g":"c1","p":3.8},
{"d":"2007-01-24","s":"EUA Spot","g":"c1","p":3.0},
{"d":"2007-01-30","s":"EUA Spot","g":"c1","p":2.3},
{"d":"2007-02-05","s":"EUA Spot","g":"c1","p":1.6},
{"d":"2007-02-11","s":"EUA Spot","g":"c1","p":1.3},
{"d":"2007-02-19","s":"EUA Spot","g":"c1","p":0.9},
{"d":"2007-02-27","s":"EUA Spot","g":"c1","p":1.0},
{"d":"2007-03-07","s":"EUA Spot","g":"c1","p":1.3},
{"d":"2007-03-15","s":"EUA Spot","g":"c1","p":1.0},
{"d":"2007-03-23","s":"EUA Spot","g":"c1","p":1.0},
{"d":"2007-03-28","s":"EUA Spot","g":"c1","p":1.3},
{"d":"2007-04-02","s":"EUA Spot","g":"c1","p":0.9},
{"d":"2007-04-12","s":"EUA Spot","g":"c1","p":0.7},
{"d":"2007-04-20","s":"EUA Spot","g":"c1","p":0.6},
{"d":"2007-05-02","s":"EUA Spot","g":"c1","p":0.5},
{"d":"2007-05-14","s":"EUA Spot","g":"c1","p":0.4},
{"d":"2007-05-31","s":"EUA Spot","g":"c1","p":0.3},
{"d":"2007-06-16","s":"EUA Spot","g":"c1","p":0.15},
{"d":"2007-07-02","s":"EUA Spot","g":"c1","p":0.12},
{"d":"2007-08-03","s":"EUA Spot","g":"c1","p":0.1},
{"d":"2007-10-01","s":"EUA Spot","g":"c1","p":0.08},
{"d":"2007-12-01","s":"EUA Spot","g":"c1","p":0.06},
{"d":"2008-02-01","s":"EUA Spot","g":"c1","p":0.05},
{"d":"2008-03-31","s":"EUA Spot","g":"c1","p":0.05},
{"d":"2008-04-15","s":"EUA Spot","g":"c2","p":24.4},
{"d":"2008-04-17","s":"EUA Spot","g":"c2","p":25.0},
{"d":"2008-04-21","s":"EUA Spot","g":"c2","p":24.6},
{"d":"2008-04-25","s":"EUA Spot","g":"c2","p":24.7},
{"d":"2008-04-29","s":"EUA Spot","g":"c2","p":23.9},
{"d":"2008-05-03","s":"EUA Spot","g":"c2","p":24.6},
{"d":"2008-05-09","s":"EUA Spot","g":"c2","p":24.9},
{"d":"2008-05-15","s":"EUA Spot","g":"c2","p":24.7},
{"d":"2008-05-21","s":"EUA Spot","g":"c2","p":25.6},
{"d":"2008-05-27","s":"EUA Spot","g":"c2","p":25.5},
{"d":"2008-06-02","s":"EUA Spot","g":"c2","p":26.2},
{"d":"2008-06-06","s":"EUA Spot","g":"c2","p":26.8},
{"d":"2008-06-12","s":"EUA Spot","g":"c2","p":26.9},
{"d":"2008-06-18","s":"EUA Spot","g":"c2","p":27.4},
{"d":"2008-06-24","s":"EUA Spot","g":"c2","p":27.8},
{"d":"2008-06-28","s":"EUA Spot","g":"c2","p":28.6},
{"d":"2008-07-01","s":"EUA Spot","g":"c2","p":27.2},
{"d":"2008-07-04","s":"EUA Spot","g":"c2","p":26.4},
{"d":"2008-07-08","s":"EUA Spot","g":"c2","p":25.9},
{"d":"2008-07-12","s":"EUA Spot","g":"c2","p":26.2},
{"d":"2008-07-16","s":"EUA Spot","g":"c2","p":24.1},
{"d":"2008-07-20","s":"EUA Spot","g":"c2","p":24.3},
{"d":"2008-07-24","s":"EUA Spot","g":"c2","p":24.4},
{"d":"2008-07-28","s":"EUA Spot","g":"c2","p":22.9},
{"d":"2008-07-31","s":"EUA Spot","g":"c2","p":20.9},
{"d":"2008-08-03","s":"EUA Spot","g":"c2","p":21.6},
{"d":"2008-08-07","s":"EUA Spot","g":"c2","p":22.5},
{"d":"2008-08-11","s":"EUA Spot","g":"c2","p":22.6},
{"d":"2008-08-15","s":"EUA Spot","g":"c2","p":23.1},
{"d":"2008-08-19","s":"EUA Spot","g":"c2","p":24.4},
{"d":"2008-08-23","s":"EUA Spot","g":"c2","p":24.1},
{"d":"2008-08-29","s":"EUA Spot","g":"c2","p":24.9},
{"d":"2008-09-02","s":"EUA Spot","g":"c2","p":23.8},
{"d":"2008-09-08","s":"EUA Spot","g":"c2","p":23.1},
{"d":"2008-09-12","s":"EUA Spot","g":"c2","p":22.5},
{"d":"2008-09-17","s":"EUA Spot","g":"c2","p":23.8},
{"d":"2008-09-21","s":"EUA Spot","g":"c2","p":24.7},
{"d":"2008-09-25","s":"EUA Spot","g":"c2","p":23.2},
{"d":"2008-09-29","s":"EUA Spot","g":"c2","p":22.5},
{"d":"2008-10-03","s":"EUA Spot","g":"c2","p":21.8},
{"d":"2008-10-07","s":"EUA Spot","g":"c2","p":21.9},
{"d":"2008-10-13","s":"EUA Spot","g":"c2","p":22.0},
{"d":"2008-10-17","s":"EUA Spot","g":"c2","p":21.5},
{"d":"2008-10-21","s":"EUA Spot","g":"c2","p":20.3},
{"d":"2008-10-25","s":"EUA Spot","g":"c2","p":18.3},
{"d":"2008-10-29","s":"EUA Spot","g":"c2","p":17.9},
{"d":"2008-11-02","s":"EUA Spot","g":"c2","p":18.6},
{"d":"2008-11-08","s":"EUA Spot","g":"c2","p":18.5},
{"d":"2008-11-12","s":"EUA Spot","g":"c2","p":17.9},
{"d":"2008-11-16","s":"EUA Spot","g":"c2","p":17.3},
{"d":"2008-11-20","s":"EUA Spot","g":"c2","p":15.5},
{"d":"2008-11-24","s":"EUA Spot","g":"c2","p":15.5},
{"d":"2008-11-30","s":"EUA Spot","g":"c2","p":15.1},
{"d":"2008-12-04","s":"EUA Spot","g":"c2","p":14.5},
{"d":"2008-12-08","s":"EUA Spot","g":"c2","p":14.6},
{"d":"2008-12-14","s":"EUA Spot","g":"c2","p":14.9},
{"d":"2008-12-22","s":"EUA Spot","g":"c2","p":14.8},
{"d":"2008-12-28","s":"EUA Spot","g":"c2","p":14.8},
{"d":"2009-01-01","s":"EUA Spot","g":"c2","p":14.9},
{"d":"2009-01-07","s":"EUA Spot","g":"c2","p":14.2},
{"d":"2009-01-11","s":"EUA Spot","g":"c2","p":13.1},
{"d":"2009-01-17","s":"EUA Spot","g":"c2","p":12.0},
{"d":"2009-01-23","s":"EUA Spot","g":"c2","p":11.5},
{"d":"2009-01-29","s":"EUA Spot","g":"c2","p":11.5},
{"d":"2009-02-02","s":"EUA Spot","g":"c2","p":10.5},
{"d":"2009-02-06","s":"EUA Spot","g":"c2","p":9.6},
{"d":"2009-02-10","s":"EUA Spot","g":"c2","p":8.1},
{"d":"2009-02-14","s":"EUA Spot","g":"c2","p":8.5},
{"d":"2009-02-17","s":"EUA Spot","g":"c2","p":9.9},
{"d":"2009-02-21","s":"EUA Spot","g":"c2","p":9.3},
{"d":"2009-02-25","s":"EUA Spot","g":"c2","p":9.7},
{"d":"2009-03-01","s":"EUA Spot","g":"c2","p":10.6},
{"d":"2009-03-07","s":"EUA Spot","g":"c2","p":11.2},
{"d":"2009-03-11","s":"EUA Spot","g":"c2","p":11.5},
{"d":"2009-03-15","s":"EUA Spot","g":"c2","p":12.5},
{"d":"2009-03-19","s":"EUA Spot","g":"c2","p":11.4},
{"d":"2009-03-23","s":"EUA Spot","g":"c2","p":10.2},
{"d":"2009-03-27","s":"EUA Spot","g":"c2","p":11.1},
{"d":"2009-03-31","s":"EUA Spot","g":"c2","p":12.1},
{"d":"2009-04-06","s":"EUA Spot","g":"c2","p":12.5},
{"d":"2009-04-12","s":"EUA Spot","g":"c2","p":13.7},
{"d":"2009-04-16","s":"EUA Spot","g":"c2","p":13.1},
{"d":"2009-04-20","s":"EUA Spot","g":"c2","p":13.4},
{"d":"2009-04-24","s":"EUA Spot","g":"c2","p":13.1},
{"d":"2009-04-27","s":"EUA Spot","g":"c2","p":13.3}
]},
"encoding": {
  "x": {"field": "d", "type": "temporal", "title": null,
    "scale": {"type": "utc", "domain": [{"year": 2005, "month": 12, "date": 1, "utc": true}, {"year": 2009, "month": 4, "date": 28, "utc": true}]},
    "axis": {
      "values": [
        {"year": 2005, "month": 12, "date": 1, "utc": true},
        {"year": 2006, "month": 2, "date": 1, "utc": true},
        {"year": 2006, "month": 4, "date": 1, "utc": true},
        {"year": 2006, "month": 6, "date": 1, "utc": true},
        {"year": 2006, "month": 8, "date": 1, "utc": true},
        {"year": 2006, "month": 10, "date": 1, "utc": true},
        {"year": 2006, "month": 12, "date": 1, "utc": true},
        {"year": 2007, "month": 2, "date": 1, "utc": true},
        {"year": 2007, "month": 4, "date": 1, "utc": true},
        {"year": 2007, "month": 6, "date": 1, "utc": true},
        {"year": 2007, "month": 8, "date": 1, "utc": true},
        {"year": 2007, "month": 10, "date": 1, "utc": true},
        {"year": 2007, "month": 12, "date": 1, "utc": true},
        {"year": 2008, "month": 2, "date": 1, "utc": true},
        {"year": 2008, "month": 4, "date": 1, "utc": true},
        {"year": 2008, "month": 6, "date": 1, "utc": true},
        {"year": 2008, "month": 8, "date": 1, "utc": true},
        {"year": 2008, "month": 10, "date": 1, "utc": true},
        {"year": 2008, "month": 12, "date": 1, "utc": true},
        {"year": 2009, "month": 2, "date": 1, "utc": true},
        {"year": 2009, "month": 4, "date": 1, "utc": true}
      ],
      "labelExpr": "utcFormat(datum.value, '%b.%y')",
      "labelAngle": 270, "labelAlign": "right", "labelBaseline": "middle",
      "labelFont": "Liberation Sans", "labelFontSize": 16, "labelFontWeight": "bold", "labelColor": "#1d1d30",
      "labelPadding": 8, "labelOverlap": false, "labelFlush": false,
      "grid": false, "tickSize": 4, "tickColor": "#8e8f92", "tickWidth": 1.5,
      "domainColor": "#8e8f92", "domainWidth": 1.5
    }
  },
  "y": {"field": "p", "type": "quantitative",
    "scale": {"domain": [0, 36], "nice": false, "zero": true},
    "axis": {
      "values": [0, 6, 12, 18, 24, 30, 36],
      "title": "EUR/tonne", "titleAngle": 0, "titleAlign": "left", "titleBaseline": "alphabetic",
      "titleX": -40, "titleY": -14, "titleFont": "DejaVu Sans", "titleFontSize": 17, "titleFontWeight": "bold", "titleColor": "#1d1d30",
      "labelFont": "DejaVu Sans", "labelFontSize": 16, "labelFontWeight": "bold", "labelColor": "#1d1d30", "labelPadding": 10,
      "grid": true, "gridColor": "#8e8f92", "gridWidth": 1.5,
      "tickSize": 8, "tickColor": "#8e8f92", "tickWidth": 1.5,
      "domainColor": "#8e8f92", "domainWidth": 1.5
    }
  },
  "color": {"field": "s", "type": "nominal",
    "scale": {"domain": ["EUADEC-10", "CERDEC-10", "EUA Spot"], "range": ["#55595c", "#1a8fd6", "#dab900"]},
    "legend": {"title": null, "orient": "none", "direction": "horizontal", "legendX": 278, "legendY": 485,
      "symbolType": "stroke", "symbolSize": 1225, "symbolStrokeWidth": 1.6, "labelOffset": 4, "columnPadding": 27, "padding": 0,
      "labelFont": "DejaVu Sans", "labelFontSize": 14, "labelFontWeight": "bold", "labelColor": "#1d1d30"}
  },
  "detail": {"field": "g", "type": "nominal"}
},
"layer": [
  {"transform": [{"filter": "datum.s === 'EUADEC-10'"}], "mark": {"type": "line", "strokeWidth": 3.1, "strokeJoin": "round"}},
  {"transform": [{"filter": "datum.s === 'CERDEC-10'"}], "mark": {"type": "line", "strokeWidth": 3.1, "strokeJoin": "round"}},
  {"transform": [{"filter": "datum.s === 'EUA Spot'"}], "mark": {"type": "line", "strokeWidth": 3.1, "strokeJoin": "round"}}
],
"config": {"view": {"stroke": null}}
}
